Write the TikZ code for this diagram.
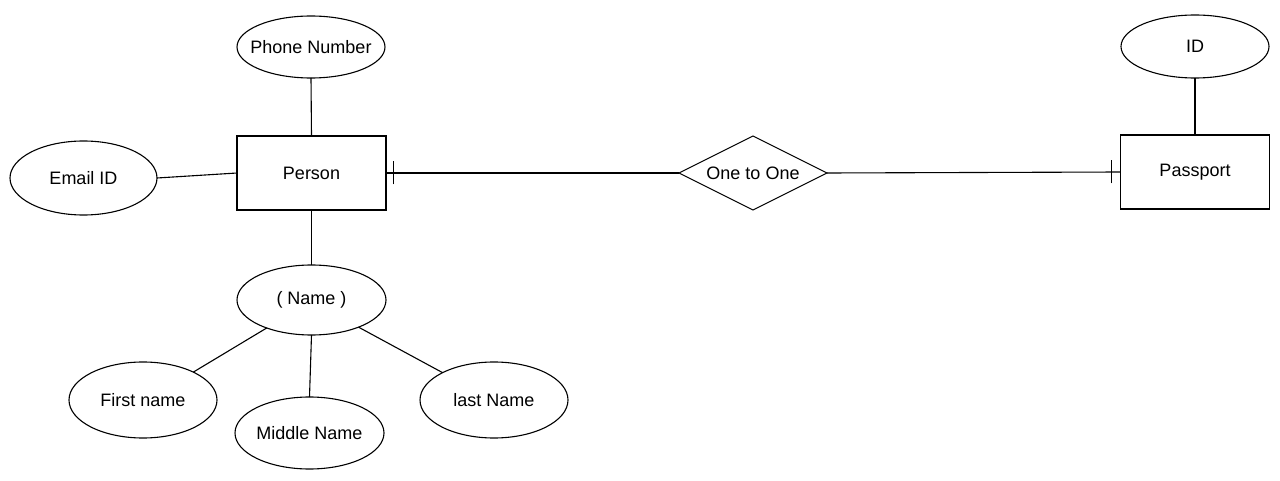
\documentclass[tikz,border=0pt]{standalone}
\usepackage{fontspec}
\setmainfont{Liberation Sans}
\usetikzlibrary{shapes.geometric}
\begin{document}
\begin{tikzpicture}[x=1pt,y=-1pt,
  every node/.style={font=\fontsize{18}{20}\selectfont},
  every label/.style={font=\fontsize{18}{20}\selectfont,inner sep=0pt},
  attr/.style={draw,ellipse,line width=1.1pt,inner sep=0pt,outer sep=0pt},
  ent/.style={draw,rectangle,line width=1.1pt,inner sep=0pt,outer sep=0pt,minimum width=149pt,minimum height=74pt},
  rel/.style={draw,diamond,line width=1.1pt,inner sep=0pt,outer sep=0pt,minimum width=148pt,minimum height=74pt,aspect=2},
  conn/.style={line width=1.1pt},
  tick/.style={line width=1.1pt}]
\useasboundingbox[fill=white] (0,0) rectangle (1280,481);
\node[attr,minimum width=148pt,minimum height=62pt,label=center:Phone Number] (phone) at (311,47) {};
\node[ent] (person) at (311.5,173) {Person};
\node[attr,minimum width=147pt,minimum height=74pt,label=center:Email ID] (email) at (83.5,178) {};
\node[attr,minimum width=149pt,minimum height=70pt,label=center:( Name )] (name) at (311.5,300) {};
\node[attr,minimum width=148pt,minimum height=76pt,label=center:First name] (first) at (143,400) {};
\node[attr,minimum width=149pt,minimum height=72pt,label=center:Middle Name] (middle) at (309.5,433) {};
\node[attr,minimum width=148pt,minimum height=76pt,label=center:last Name] (last) at (494,400) {};
\node[rel,label=center:One to One] (rel) at (753,173) {};
\node[ent] (passport) at (1195,172) {Passport};
\node[attr,minimum width=148pt,minimum height=63pt,label=center:ID] (id) at (1195,46.5) {};
\draw[conn] (phone.south) -- (person.north);
\draw[conn] (email.east) -- (person.west);
\draw[conn] (person.south) -- (name.north);
\draw[conn] (name.-148) -- (first.29);
\draw[conn] (name.south) -- (middle.north);
\draw[conn] (name.-30) -- (last.152);
\draw[conn] (person.east) -- (rel.west);
\draw[conn] (rel.east) -- (passport.west);
\draw[conn] (id.south) -- (passport.north);
\draw[tick] ([xshift=7.5pt,yshift=-11.5pt]person.east) -- ([xshift=7.5pt,yshift=11.5pt]person.east);
\draw[tick] ([xshift=-9pt,yshift=-11.5pt]passport.west) -- ([xshift=-9pt,yshift=11.5pt]passport.west);
\end{tikzpicture}
\end{document}
